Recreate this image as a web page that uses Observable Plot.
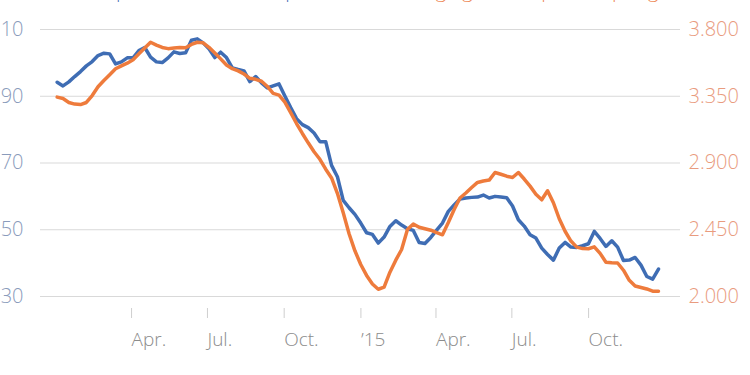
<!DOCTYPE html>
<html><head><meta charset="utf-8">
<script src="https://cdn.jsdelivr.net/npm/d3@7"></script>
<script src="https://cdn.jsdelivr.net/npm/@observablehq/plot@0.6"></script>
<style>
body{margin:0;background:#fff;font-family:"Open Sans",sans-serif;overflow:hidden}
#wrap{position:relative;width:750px;height:375px;overflow:hidden}
#head{position:absolute;left:30px;top:-20px;font-size:20px;line-height:20px;white-space:nowrap;font-weight:300}
</style></head><body>
<div id="wrap">
<div id="head"><span style="color:#4a72b8">Crude oil price (WTI), dollars per barrel</span>&nbsp;&nbsp;<span style="color:#ee8a5a">Average gasoline price, $ per gallon</span></div>
<div id="chart"></div>
</div>
<script>
// weekly observations starting on this Friday
const startDate = "2014-01-03";
const oilPrice = [
94.2,93.1,94.3,95.9,97.4,99.1,100.4,102.2,102.9,102.7,
99.7,100.3,101.5,101.5,103.7,104.6,101.7,100.3,100.1,101.5,
103.3,102.8,103.0,106.8,107.2,106.0,104.2,101.6,103.2,101.6,
98.5,98.0,97.6,94.4,95.9,94.0,92.5,93.1,93.7,90.1,
86.6,83.3,81.5,80.6,79.0,76.4,76.4,69.3,65.9,58.8,
56.6,54.6,52.0,49.1,48.6,46.0,47.8,51.0,52.7,51.4,
50.3,49.8,46.2,45.9,47.7,49.9,52.0,55.5,57.4,59.2,
59.5,59.7,59.8,60.4,59.5,60.0,59.8,59.6,57.1,53.0,
51.1,48.5,47.5,44.5,42.6,40.9,44.5,46.2,44.8,44.7,
45.2,45.8,49.5,47.4,45.0,46.7,44.8,40.8,40.9,41.7,
39.4,36.0,35.2,38.2];
const gasPrice = [
3.344,3.335,3.308,3.297,3.294,3.308,3.355,3.414,3.456,3.495,
3.535,3.555,3.573,3.596,3.636,3.675,3.714,3.695,3.679,3.671,
3.675,3.679,3.677,3.699,3.714,3.710,3.680,3.641,3.602,3.561,
3.536,3.521,3.500,3.471,3.464,3.451,3.416,3.369,3.358,3.311,
3.240,3.166,3.099,3.036,2.976,2.925,2.858,2.799,2.696,2.564,
2.423,2.308,2.216,2.142,2.084,2.049,2.063,2.164,2.245,2.317,
2.452,2.489,2.467,2.457,2.447,2.430,2.416,2.499,2.587,2.664,
2.698,2.735,2.769,2.779,2.785,2.836,2.824,2.811,2.802,2.836,
2.792,2.744,2.689,2.652,2.713,2.632,2.524,2.440,2.374,2.333,
2.323,2.322,2.335,2.291,2.231,2.227,2.226,2.177,2.109,2.071,
2.061,2.051,2.036,2.036];
const leftTicks = [30, 50, 70, 90, 110];
const rightTicks = [2.000, 2.450, 2.900, 3.350, 3.800];
const xTickDates = ["2014-04-01","2014-07-01","2014-10-01","2015-01-01","2015-04-01","2015-07-01","2015-10-01"];
const xTickLabels = ["Apr.","Jul.","Oct.","’15","Apr.","Jul.","Oct."];
const xDomain = ["2014-01-01","2015-12-31"];

const start = new Date(startDate);
const dates = oilPrice.map((_, i) => d3.utcDay.offset(start, 7 * i));
const gasToLeft = d3.scaleLinear()
  .domain([rightTicks[0], rightTicks[rightTicks.length - 1]])
  .range([leftTicks[0], leftTicks[leftTicks.length - 1]]);
const oil = oilPrice.map((v, i) => ({date: dates[i], v}));
const gas = gasPrice.map((v, i) => ({date: dates[i], v: gasToLeft(v)}));
const labelMap = new Map(xTickDates.map((d, i) => [+new Date(d), xTickLabels[i]]));

const chart = Plot.plot({
  width: 750,
  height: 375,
  marginTop: 29,
  marginBottom: 79,
  marginLeft: 40,
  marginRight: 70,
  style: {fontFamily: "'Open Sans', sans-serif", background: "#fff"},
  x: {type: "utc", domain: xDomain.map(d => new Date(d)), insetLeft: 15, insetRight: 17},
  y: {domain: [leftTicks[0], leftTicks[leftTicks.length - 1]]},
  marks: [
    Plot.gridY(leftTicks, {stroke: "#d9d9d9", strokeOpacity: 1, strokeWidth: 1}),
    Plot.axisY(leftTicks, {anchor: "left", label: null, tickSize: 0, tickPadding: 17, fontSize: 20, fill: "#8a9bbb", fontWeight: 300, tickFormat: d => String(d)}),
    Plot.axisY(leftTicks, {anchor: "right", label: null, tickSize: 0, tickPadding: 8, fontSize: 20, fill: "#e99b7e", fontWeight: 300, tickFormat: d => gasToLeft.invert(d).toFixed(3)}),
    Plot.axisX(xTickDates.map(d => new Date(d)), {anchor: "bottom", label: null, tickSize: 10, dy: 12, tickPadding: 14, fontSize: 19, textAnchor: "start", dx: 1, stroke: "#cfcfcf", fill: "#8c8c8c", fontWeight: 300, tickFormat: d => labelMap.get(+d)}),
    Plot.lineY(oil, {x: "date", y: "v", stroke: "#3f6db4", strokeWidth: 3.5, curve: "linear"}),
    Plot.lineY(gas, {x: "date", y: "v", stroke: "#ee7b3c", strokeWidth: 3.5, curve: "linear"})
  ]
});
document.getElementById("chart").appendChild(chart);
</script>
</body></html>
